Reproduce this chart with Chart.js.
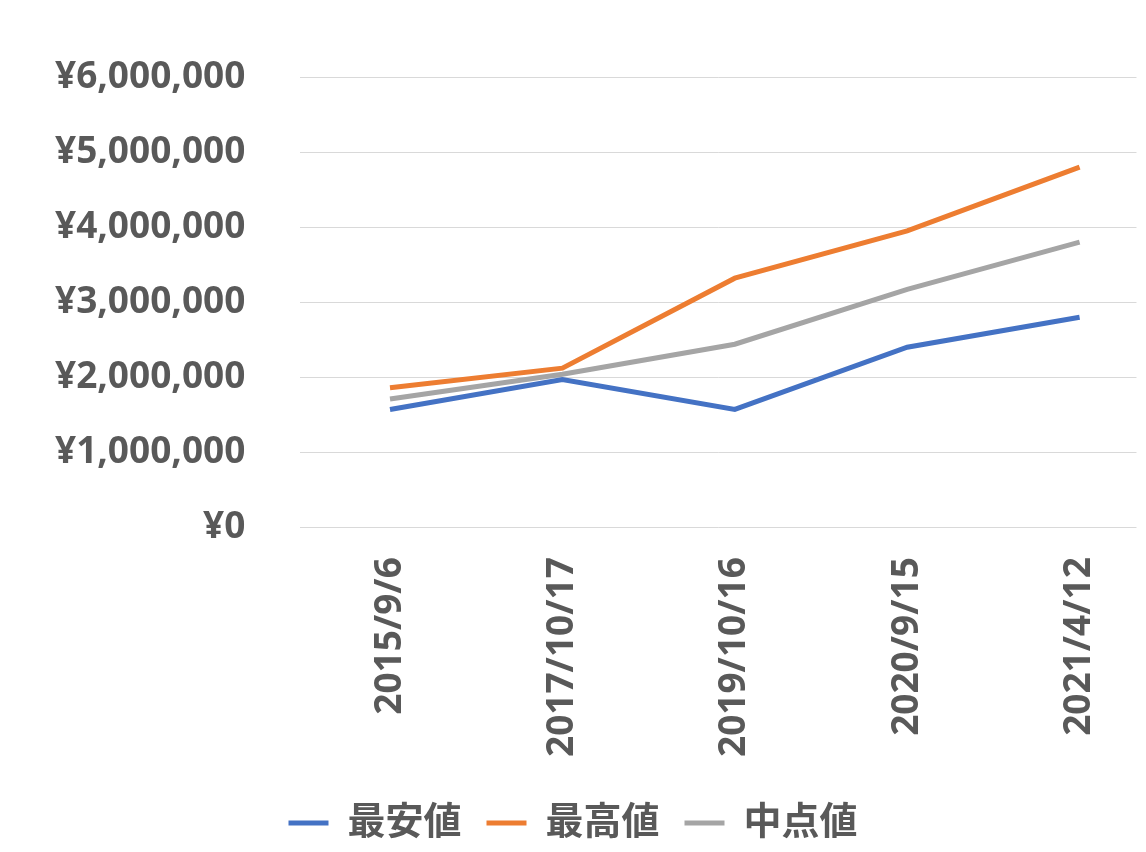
<!DOCTYPE html>
<html><head><meta charset="utf-8">
<script src="https://cdn.jsdelivr.net/npm/chart.js@4/dist/chart.umd.min.js"></script>
<style>html,body{margin:0;padding:0;background:#fff}#w{width:1146px;height:852px}</style>
</head><body><div id="w"><canvas id="c"></canvas></div>
<script>
const categories = ["2015/9/6","2017/10/17","2019/10/16","2020/9/15","2021/4/12"];
const minValues = [1570000,1970000,1570000,2400000,2800000];
const maxValues = [1860000,2120000,3320000,3950000,4800000];
const midValues = [1710000,2040000,2440000,3170000,3800000];
const seriesNames = ["最安値","最高値","中点値"];
const font = "'Open Sans', 'Noto Sans CJK JP', sans-serif";
const toPts = a => a.map((v,i)=>({x:i,y:v}));
const mk = (label,data,color)=>({label,data:toPts(data),borderColor:color,backgroundColor:color,borderWidth:5,pointRadius:0,tension:0,fill:false});
new Chart(document.getElementById('c'),{
 type:'line',
 data:{datasets:[mk(seriesNames[0],minValues,'#4472C4'),mk(seriesNames[1],maxValues,'#ED7D31'),mk(seriesNames[2],midValues,'#A5A5A5')]},
 options:{responsive:true,maintainAspectRatio:false,animation:false,
  layout:{padding:{top:-40,right:0,left:0,bottom:0}},
  plugins:{tooltip:{enabled:false},legend:{position:'bottom',labels:{usePointStyle:true,pointStyle:'line',pointStyleWidth:40,boxWidth:40,padding:25,color:'#595959',font:{family:font,size:38,weight:'bold'}}}},
  scales:{
   x:{type:'linear',min:-0.52,max:4.33,grid:{display:false},border:{display:false},
      afterBuildTicks:ax=>{ax.ticks=categories.map((_,i)=>({value:i}));},
      ticks:{maxRotation:90,minRotation:90,autoSkip:false,padding:22,color:'#595959',font:{family:font,size:37,weight:'bold'},callback:v=>categories[v]}},
   y:{min:0,max:6000000,grid:{color:'#D9D9D9',lineWidth:1,drawTicks:false},border:{display:false},
      ticks:{stepSize:1000000,padding:55,color:'#595959',font:{family:font,size:37,weight:'bold'},callback:v=>'¥'+v.toLocaleString('en-US')}}
  }}
});
</script></body></html>
